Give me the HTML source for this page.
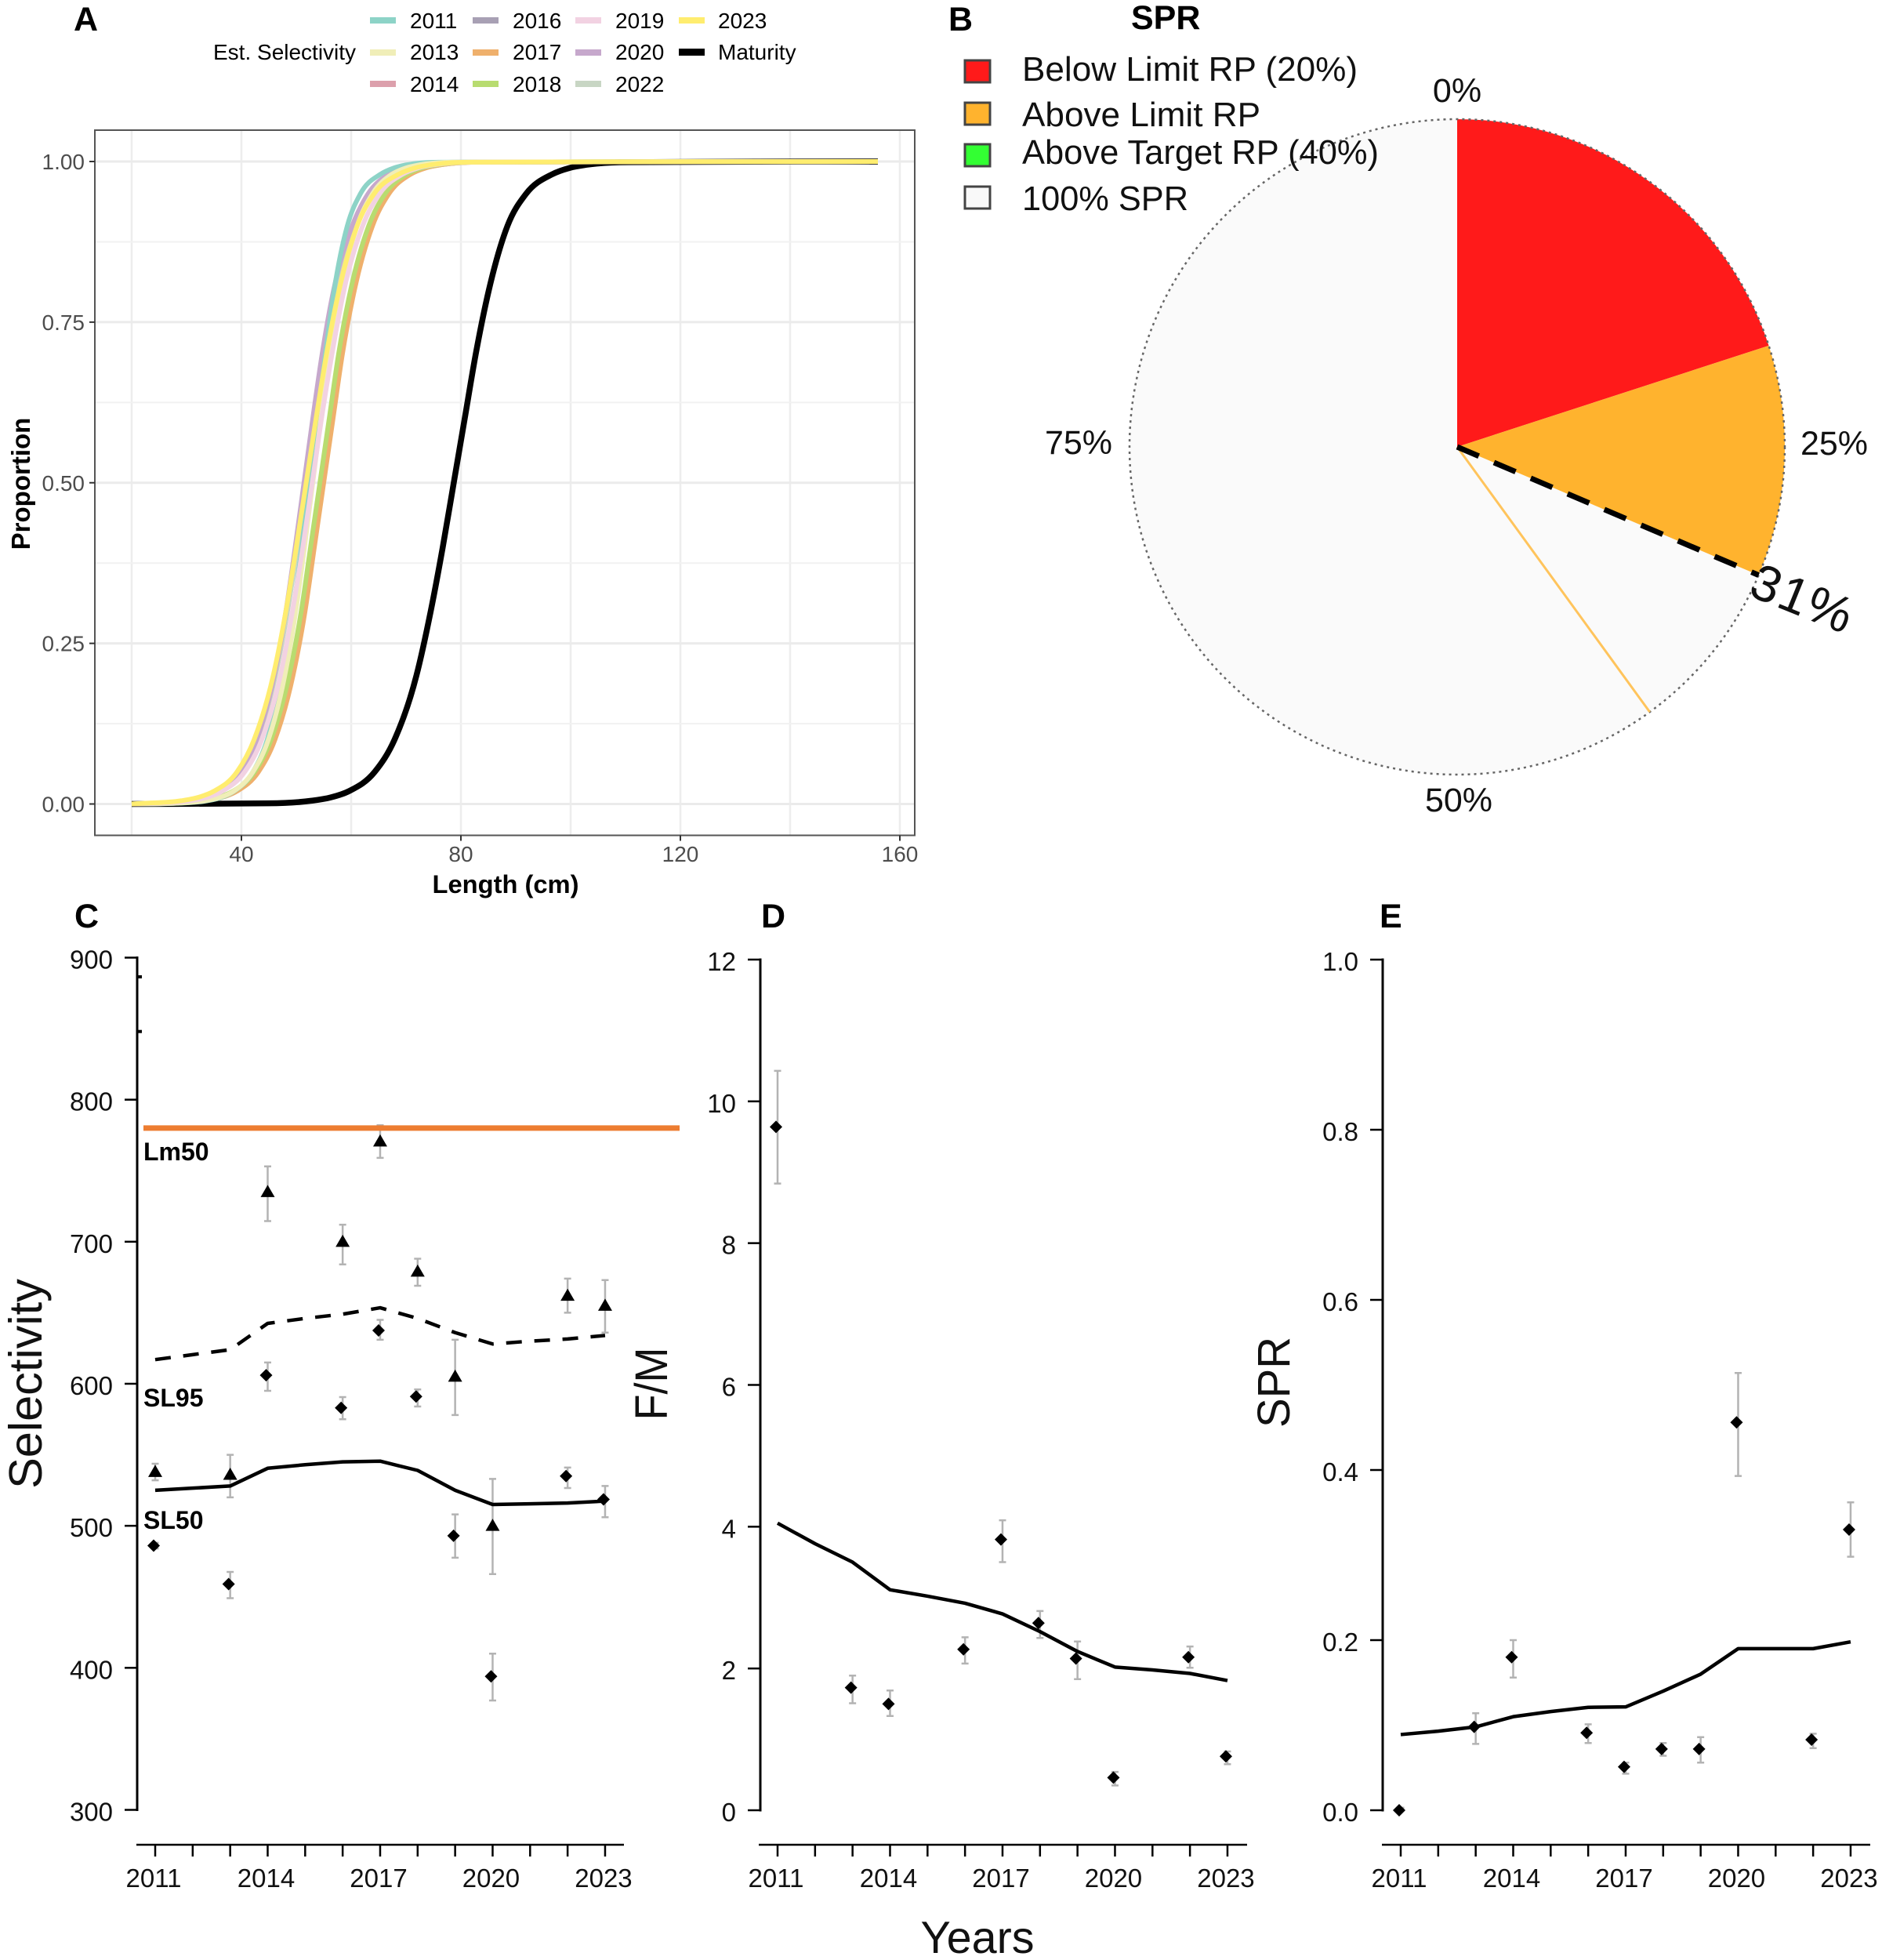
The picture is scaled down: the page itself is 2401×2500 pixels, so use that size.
<!DOCTYPE html>
<html lang="en">
<head>
<meta charset="utf-8">
<title>Selectivity, F/M and SPR figure</title>
<style>
  html, body { margin: 0; padding: 0; background: #ffffff; }
  svg { display: block; font-family: "Liberation Sans", Arial, sans-serif; }
  .panel-letter { font-size: 43px; font-weight: 700; fill: #000; }
  .leg-a { font-size: 28px; fill: #000; }
  .leg-b { font-size: 44px; fill: #111; }
  .pie-lab { font-size: 43px; fill: #111; text-anchor: middle; }
</style>
</head>
<body>
<svg id="chart" xmlns="http://www.w3.org/2000/svg" width="2401" height="2500" viewBox="0 0 2401 2500">
  <rect x="0" y="0" width="2401" height="2500" fill="#ffffff"/>
  <g id="panelA"></g>
  <g id="panelB"></g>
  <g id="panelC"></g>
  <g id="panelD"></g>
  <g id="panelE"></g>

  <text class="panel-letter" x="94" y="39">A</text>
  <text class="panel-letter" x="1210" y="39">B</text>
  <text class="panel-letter" x="95" y="1183">C</text>
  <text class="panel-letter" x="971" y="1183">D</text>
  <text class="panel-letter" x="1760" y="1183">E</text>

  <g>
    <text class="leg-a" x="272" y="76">Est. Selectivity</text>
    <rect x="472" y="22" width="33" height="8" fill="#8dd3c7"/>
    <text class="leg-a" x="523" y="36">2011</text>
    <rect x="472" y="63" width="33" height="8" fill="#f0eeb8"/>
    <text class="leg-a" x="523" y="76">2013</text>
    <rect x="472" y="103" width="33" height="8" fill="#dca0ac"/>
    <text class="leg-a" x="523" y="117">2014</text>
    <rect x="603" y="22" width="33" height="8" fill="#a8a0b4"/>
    <text class="leg-a" x="654" y="36">2016</text>
    <rect x="603" y="63" width="33" height="8" fill="#efb06c"/>
    <text class="leg-a" x="654" y="76">2017</text>
    <rect x="603" y="103" width="33" height="8" fill="#b8dc70"/>
    <text class="leg-a" x="654" y="117">2018</text>
    <rect x="734" y="22" width="33" height="8" fill="#f2d2e2"/>
    <text class="leg-a" x="785" y="36">2019</text>
    <rect x="734" y="63" width="33" height="8" fill="#c6a8cc"/>
    <text class="leg-a" x="785" y="76">2020</text>
    <rect x="734" y="103" width="33" height="8" fill="#c8d6c4"/>
    <text class="leg-a" x="785" y="117">2022</text>
    <rect x="866" y="22" width="33" height="8" fill="#ffed6f"/>
    <text class="leg-a" x="916" y="36">2023</text>
    <rect x="866" y="62" width="33" height="9" fill="#000000"/>
    <text class="leg-a" x="916" y="76">Maturity</text>
  </g>

  <text transform="translate(38,617) rotate(-90)" text-anchor="middle" font-size="33" font-weight="700" fill="#000">Proportion</text>
  <text x="645" y="1139" text-anchor="middle" font-size="32.7" font-weight="700" fill="#000">Length (cm)</text>

  <text transform="translate(53,1765) rotate(-90)" text-anchor="middle" font-size="59.5" fill="#111">Selectivity</text>
  <text transform="translate(851,1765) rotate(-90)" text-anchor="middle" font-size="58" fill="#111" textLength="93" lengthAdjust="spacingAndGlyphs">F/M</text>
  <text transform="translate(1645,1763) rotate(-90)" text-anchor="middle" font-size="58" fill="#111" textLength="116" lengthAdjust="spacingAndGlyphs">SPR</text>
  <text x="1247" y="2491" text-anchor="middle" font-size="57.5" fill="#111">Years</text>
</svg>

<script>
/* ---------- Panel A data ---------- */
const lengthTicks = [40, 80, 120, 160];
const lengthGrid = [20, 40, 60, 80, 100, 120, 140, 160];
const proportionTicks = [0, 0.25, 0.5, 0.75, 1];
const proportionTickLabels = ["0.00", "0.25", "0.50", "0.75", "1.00"];
const proportionMinorGrid = [0.125, 0.375, 0.625, 0.875];
const curveLevels = [0, 0.001, 0.005, 0.01, 0.02, 0.05, 0.1, 0.2, 0.3, 0.4, 0.5, 0.6, 0.7, 0.8, 0.9, 0.95, 0.98, 0.99, 0.995, 0.999, 1];
const curveStart = [20];
const curveEnd = [156];
const lenMaturity = [44.9,52.7,56.2,59.6,64.3,67.9,71.9,74.5,76.7,78.7,80.7,82.7,85.1,88.5,91.9,96.6,99.8,103.0,110.5];
const len2011 = [28.2,33.8,36.3,38.7,42.1,44.7,47.5,49.4,51.0,52.4,53.8,55.3,56.9,59.3,61.7,65.3,67.8,70.2,76.0];
const len2013 = [27.5,33.4,36.0,38.6,42.1,44.9,47.9,49.9,51.5,53.0,54.5,56.1,58.1,61.1,63.9,67.4,70.0,72.6,78.5];
const len2014 = [26.9,33.3,36.2,39.0,42.9,45.9,49.2,51.4,53.1,54.8,56.5,58.2,60.4,63.7,66.7,70.6,73.4,76.3,82.7];
const len2016 = [27.0,33.4,36.3,39.1,43.0,46.0,49.3,51.5,53.2,54.9,56.6,58.3,60.5,63.8,66.8,70.7,73.5,76.4,82.8];
const len2017 = [27.1,33.5,36.4,39.2,43.1,46.1,49.4,51.6,53.3,55.0,56.7,58.4,60.6,63.9,66.9,70.8,73.6,76.5,82.9];
const len2018 = [26.4,32.8,35.7,38.5,42.4,45.4,48.7,50.9,52.6,54.3,56.0,57.7,59.9,63.2,66.2,70.1,72.9,75.8,82.2];
const len2019 = [23.9,30.6,33.6,36.5,40.6,43.7,47.1,49.3,51.2,52.9,54.6,56.5,58.7,62.1,65.2,69.3,72.2,75.2,81.9];
const len2020 = [24.5,30.7,33.5,36.2,39.9,42.8,46.0,48.1,49.8,51.4,53.0,54.7,56.8,60.2,63.1,66.8,69.5,72.3,78.5];
const len2022 = [23.6,30.2,33.0,35.9,39.8,42.9,46.2,48.4,50.2,51.9,53.6,55.4,57.6,60.9,64.0,67.9,70.8,73.6,80.2];
const len2023 = [22.1,29.0,32.0,35.0,39.2,42.3,45.8,48.1,50.0,51.8,53.6,55.5,57.8,61.1,64.2,68.6,71.6,74.6,81.5];

/* ---------- Panel B data ---------- */
const sprEstimate = [0.314];
const limitRP = [0.20];
const targetRP = [0.40];

/* ---------- Shared time-series data ---------- */
const allYears = [2011,2012,2013,2014,2015,2016,2017,2018,2019,2020,2021,2022,2023];
const obsYears = [2011,2013,2014,2016,2017,2018,2019,2020,2022,2023];
const yearTickLabels = [2011,2014,2017,2020,2023];

/* ---------- Panel C data ---------- */
const selTicks = [300,400,500,600,700,800,900];
const sl50Obs = [486,459,606,583,637.5,591,493,394,535,518.6];
const sl50Lo  = [484,449,595,575,631,584,477.5,377,526.6,506];
const sl50Hi  = [488,467.5,615,590.6,645,596,508,410,541,528];
const sl95Obs = [538,536,735,700,770.6,679,605,500,662,655];
const sl95Lo  = [532,520,714.5,684,759,669,578,466,650,636];
const sl95Hi  = [543.7,550,753,712,782,688,631,533,674,673];
const sl50Est = [525,526.5,528,540.5,543,545,545.5,539,525,515,515.5,516,517.4];
const sl95Est = [617,620.5,624,642.5,646,649,653.5,646,636,628,630,631.5,634];
const lm50Value = [780];
const offScaleValues = [886.5,848];

/* ---------- Panel D data ---------- */
const fmTicks = [0,2,4,6,8,10,12];
const fmObs = [9.64,1.73,1.5,2.27,3.82,2.64,2.14,0.46,2.16,0.76];
const fmLo  = [8.84,1.51,1.33,2.07,3.5,2.43,1.85,0.35,2.01,0.65];
const fmHi  = [10.43,1.9,1.69,2.44,4.09,2.81,2.38,0.54,2.31,0.83];
const fmEst = [4.05,3.76,3.5,3.11,3.02,2.92,2.77,2.52,2.24,2.02,1.98,1.93,1.83];

/* ---------- Panel E data ---------- */
const sprTicks = [0,0.2,0.4,0.6,0.8,1];
const sprTickLabels = ["0.0","0.2","0.4","0.6","0.8","1.0"];
const sprObs = [0,0.098,0.18,0.091,0.051,0.072,0.072,0.456,0.083,0.33];
const sprLo  = [0,0.078,0.156,0.079,0.043,0.064,0.056,0.393,0.073,0.298];
const sprHi  = [0.003,0.114,0.2,0.101,0.056,0.079,0.086,0.514,0.09,0.362];
const sprEst = [0.089,0.093,0.098,0.11,0.116,0.121,0.1215,0.14,0.16,0.19,0.19,0.19,0.198];

/* ---------- helpers ---------- */
const NS = 'http://www.w3.org/2000/svg';
function mk(parent, tag, attrs, txt) {
  const el = document.createElementNS(NS, tag);
  for (const k in attrs) el.setAttribute(k, attrs[k]);
  if (txt !== undefined) el.textContent = txt;
  parent.appendChild(el);
  return el;
}
/* Steffen monotone cubic path through points ordered by increasing x */
function monotonePath(pts) {
  const n = pts.length;
  const h = [], s = [], m = new Array(n);
  for (let i = 0; i < n - 1; i++) {
    h[i] = Math.max(pts[i + 1][0] - pts[i][0], 0.001);
    s[i] = (pts[i + 1][1] - pts[i][1]) / h[i];
  }
  m[0] = s[0];
  m[n - 1] = s[n - 2];
  for (let i = 1; i < n - 1; i++) {
    const p = (s[i - 1] * h[i] + s[i] * h[i - 1]) / (h[i - 1] + h[i]);
    const sign = s[i - 1] * s[i] <= 0 ? 0 : Math.sign(s[i]);
    m[i] = sign * Math.min(Math.abs(s[i - 1]) * 3, Math.abs(s[i]) * 3, Math.abs(p));
  }
  let d = 'M' + pts[0][0].toFixed(2) + ' ' + pts[0][1].toFixed(2);
  for (let i = 0; i < n - 1; i++) {
    const c1x = pts[i][0] + h[i] / 3, c1y = pts[i][1] + m[i] * h[i] / 3;
    const c2x = pts[i + 1][0] - h[i] / 3, c2y = pts[i + 1][1] - m[i + 1] * h[i] / 3;
    d += 'C' + c1x.toFixed(2) + ' ' + c1y.toFixed(2) + ' ' + c2x.toFixed(2) + ' ' + c2y.toFixed(2) + ' ' + pts[i + 1][0].toFixed(2) + ' ' + pts[i + 1][1].toFixed(2);
  }
  return d;
}
function linePath(pts) {
  return pts.map((p, i) => (i ? 'L' : 'M') + p[0].toFixed(2) + ' ' + p[1].toFixed(2)).join('');
}

/* ---------- Panel A ---------- */
(function () {
  const g = document.getElementById('panelA');
  const xA = v => 308 + (v - 40) * 7.0;
  const yA = v => 1025.5 - v * 819.5;
  const box = { l: 121, t: 166, r: 1167, b: 1065.5 };

  lengthGrid.forEach(v => {
    const ln = mk(g, 'line', { x1: xA(v), x2: xA(v), y1: box.t, y2: box.b, stroke: '#ededed', 'stroke-width': 2.5 });
    
    
  });
  proportionMinorGrid.forEach(v => {
    const ln = mk(g, 'line', { x1: box.l, x2: box.r, y1: yA(v), y2: yA(v), stroke: '#f1f1f1', 'stroke-width': 2 });
    
    
  });
  proportionTicks.forEach(v => {
    const ln = mk(g, 'line', { x1: box.l, x2: box.r, y1: yA(v), y2: yA(v), stroke: '#ebebeb', 'stroke-width': 3 });
    
    
  });

  const series = [
    { key: 'maturity', len: lenMaturity, color: '#000000', w: 7.5 },
    { key: '2014', len: len2014, color: '#dca0ac', w: 6 },
    { key: '2016', len: len2016, color: '#a8a0b4', w: 6 },
    { key: '2017', len: len2017, color: '#efb06c', w: 6 },
    { key: '2018', len: len2018, color: '#b8dc70', w: 6 },
    { key: '2022', len: len2022, color: '#c8d6c4', w: 6 },
    { key: '2020', len: len2020, color: '#c6a8cc', w: 6 },
    { key: '2011', len: len2011, color: '#8dd3c7', w: 6 },
    { key: '2013', len: len2013, color: '#f0eeb8', w: 6 },
    { key: '2019', len: len2019, color: '#f2d2e2', w: 6 },
    { key: '2023', len: len2023, color: '#ffed6f', w: 6 }
  ];
  series.forEach(s => {
    const xs = [curveStart[0]].concat(s.len, [curveEnd[0]]);
    const pts = xs.map((x, i) => [xA(x), yA(curveLevels[i])]);
    const p = mk(g, 'path', { d: monotonePath(pts), fill: 'none', stroke: s.color, 'stroke-width': s.w, 'stroke-linejoin': 'round' });
    
    
  });

  const border = mk(g, 'rect', { x: box.l, y: box.t, width: box.r - box.l, height: box.b - box.t, fill: 'none', stroke: '#555555', 'stroke-width': 2 });
  
  

  proportionTicks.forEach((v, i) => {
    const t = mk(g, 'line', { x1: box.l - 7, x2: box.l, y1: yA(v), y2: yA(v), stroke: '#333333', 'stroke-width': 2 });
    
    
    const lb = mk(g, 'text', { x: 108, y: yA(v) + 10, 'text-anchor': 'end', 'font-size': 28, fill: '#4d4d4d' }, proportionTickLabels[i]);
    
    
  });
  lengthTicks.forEach(v => {
    const t = mk(g, 'line', { x1: xA(v), x2: xA(v), y1: box.b, y2: box.b + 7, stroke: '#333333', 'stroke-width': 2 });
    
    
    const lb = mk(g, 'text', { x: xA(v), y: 1099, 'text-anchor': 'middle', 'font-size': 28, fill: '#4d4d4d' }, String(v));
    
    
  });
})();

/* ---------- Panel B ---------- */
(function () {
  const g = document.getElementById('panelB');
  const cx = 1859, cy = 570, r = 418;
  const ptAt = (p, rad) => [cx + rad * Math.sin(p * 2 * Math.PI), cy - rad * Math.cos(p * 2 * Math.PI)];
  const slice = (a, b) => {
    const s = ptAt(a, r), e = ptAt(b, r);
    const large = (b - a) > 0.5 ? 1 : 0;
    return 'M' + cx + ' ' + cy + 'L' + s[0] + ' ' + s[1] + 'A' + r + ' ' + r + ' 0 ' + large + ' 1 ' + e[0] + ' ' + e[1] + 'Z';
  };

  const base = mk(g, 'circle', { cx: cx, cy: cy, r: r, fill: '#fafafa' });
  
  

  const red = mk(g, 'path', { d: slice(0, limitRP[0]), fill: '#ff1a1a' });
  
  

  const orange = mk(g, 'path', { d: slice(limitRP[0], sprEstimate[0]), fill: '#ffb32e' });
  
  

  const outline = mk(g, 'circle', { cx: cx, cy: cy, r: r, fill: 'none', stroke: '#666666', 'stroke-width': 2.5, 'stroke-dasharray': '3 5' });
  
  

  const tEnd = ptAt(targetRP[0], r);
  const tLine = mk(g, 'line', { x1: cx, y1: cy, x2: tEnd[0], y2: tEnd[1], stroke: '#ffc45c', 'stroke-width': 3 });
  
  

  const sEnd = ptAt(sprEstimate[0], r);
  const sLine = mk(g, 'line', { x1: cx, y1: cy, x2: sEnd[0], y2: sEnd[1], stroke: '#000000', 'stroke-width': 7, 'stroke-dasharray': '30 21' });
  
  

  const lab0 = mk(g, 'text', { class: 'pie-lab', x: 1859, y: 130 }, '0%');
  
  
  const lab25 = mk(g, 'text', { class: 'pie-lab', x: 2340, y: 580 }, '25%');
  
  
  const lab50 = mk(g, 'text', { class: 'pie-lab', x: 1861, y: 1035 }, '50%');
  
  
  const lab75 = mk(g, 'text', { class: 'pie-lab', x: 1376, y: 579 }, '75%');
  
  

  const sprAnchor = ptAt(sprEstimate[0], r + 55);
  const sprLab = mk(g, 'text', { x: 0, y: 0, dy: '0.35em', 'text-anchor': 'middle', 'font-size': 65, 'letter-spacing': 2, fill: '#111', transform: 'translate(' + (sprAnchor[0] + 6).toFixed(1) + ',' + (sprAnchor[1] + 8).toFixed(1) + ') rotate(22)' }, Math.round(sprEstimate[0] * 100) + '%');
  
  

  const title = mk(g, 'text', { x: 1443, y: 37, 'font-size': 43, 'font-weight': 700, fill: '#000' }, 'SPR');
  
  

  const rows = [
    { t: 'Below Limit RP (20%)', c: '#ff1a1a', y: 77, b: 103, n: 'below-limit', len: 428 },
    { t: 'Above Limit RP', c: '#ffb32e', y: 131, b: 161, n: 'above-limit', len: 304 },
    { t: 'Above Target RP (40%)', c: '#33ff33', y: 184, b: 209, n: 'above-target', len: 455 },
    { t: '100% SPR', c: '#f9f9f9', y: 238, b: 268, n: 'full-spr', len: 212 }
  ];
  rows.forEach(o => {
    const sw = mk(g, 'rect', { x: 1231, y: o.y, width: 32, height: 28, fill: o.c, stroke: '#444444', 'stroke-width': 3 });
    
    
    const tx = mk(g, 'text', { class: 'leg-b', x: 1304, y: o.b, textLength: o.len, lengthAdjust: 'spacingAndGlyphs' }, o.t);
    
    
  });
})();

/* ---------- Panels C, D, E ---------- */
function drawAxes(g, ax, yTicks, yLabels) {
  const yLine = mk(g, 'line', { x1: ax.axisX, x2: ax.axisX, y1: ax.y(yTicks[yTicks.length - 1]), y2: ax.y(yTicks[0]), stroke: '#000', 'stroke-width': 3, 'stroke-linecap': 'square' });
  
  
  yTicks.forEach((v, i) => {
    const t = mk(g, 'line', { x1: ax.axisX - 16, x2: ax.axisX, y1: ax.y(v), y2: ax.y(v), stroke: '#000', 'stroke-width': 2.5 });
    
    
    const lb = mk(g, 'text', { x: ax.axisX - 31, y: ax.y(v) + 14, 'text-anchor': 'end', 'font-size': 33, fill: '#111' }, yLabels[i]);
    
    
  });
  const xLine = mk(g, 'line', { x1: ax.xL, x2: ax.xR, y1: 2353, y2: 2353, stroke: '#000', 'stroke-width': 2.5 });
  
  
  allYears.forEach(v => {
    const t = mk(g, 'line', { x1: ax.x(v), x2: ax.x(v), y1: 2353, y2: 2368, stroke: '#000', 'stroke-width': 2.5 });
    
    
  });
  yearTickLabels.forEach(v => {
    const lb = mk(g, 'text', { x: ax.x(v) - 2, y: 2407, 'text-anchor': 'middle', 'font-size': 33, fill: '#111' }, String(v));
    
    
  });
}
function drawLine(g, ax, values, name, dash) {
  const pts = allYears.map((yr, i) => [ax.x(yr), ax.y(values[i])]);
  const attrs = { d: linePath(pts), fill: 'none', stroke: '#000', 'stroke-width': 4.5, 'stroke-linejoin': 'round' };
  if (dash) attrs['stroke-dasharray'] = dash;
  const p = mk(g, 'path', attrs);
  
  
}
function drawObs(g, ax, obs, lo, hi, shape, name) {
  obsYears.forEach((yr, i) => {
    const x = ax.x(yr);
    const bar = mk(g, 'path', {
      d: 'M' + x + ' ' + ax.y(hi[i]) + 'V' + ax.y(lo[i]) +
         'M' + (x - 4.5) + ' ' + ax.y(hi[i]) + 'H' + (x + 4.5) +
         'M' + (x - 4.5) + ' ' + ax.y(lo[i]) + 'H' + (x + 4.5),
      fill: 'none', stroke: '#b3b3b3', 'stroke-width': 2.5
    });
    
    
    const y = ax.y(obs[i]);
    let d;
    if (shape === 'triangle') {
      d = 'M' + x + ' ' + (y - 9) + 'L' + (x + 9) + ' ' + (y + 6.5) + 'L' + (x - 9) + ' ' + (y + 6.5) + 'Z';
    } else {
      const mx = x - 2;
      d = 'M' + mx + ' ' + (y - 8) + 'L' + (mx + 8) + ' ' + y + 'L' + mx + ' ' + (y + 8) + 'L' + (mx - 8) + ' ' + y + 'Z';
    }
    const m = mk(g, 'path', { d: d, fill: '#000' });
    
    
  });
}

(function () {
  const g = document.getElementById('panelC');
  const ax = { axisX: 175, xL: 174, xR: 796, x: v => 198 + (v - 2011) * 47.83, y: v => 2308.5 - (v - 300) * 1.8117 };
  drawAxes(g, ax, selTicks, selTicks.map(String));
  offScaleValues.forEach(v => {
    const o = mk(g, 'line', { x1: 174, x2: 181, y1: ax.y(v), y2: ax.y(v), stroke: '#000', 'stroke-width': 4 });
    
    
  });
  drawObs(g, ax, sl95Obs, sl95Lo, sl95Hi, 'triangle', 'sl95-observed');
  drawObs(g, ax, sl50Obs, sl50Lo, sl50Hi, 'diamond', 'sl50-observed');
  drawLine(g, ax, sl50Est, 'sl50-estimate-line');
  drawLine(g, ax, sl95Est, 'sl95-estimate-line', '20 16');
  const lm = mk(g, 'line', { x1: 183, x2: 867, y1: ax.y(lm50Value[0]), y2: ax.y(lm50Value[0]), stroke: '#ed7d31', 'stroke-width': 7 });
  
  
  const t1 = mk(g, 'text', { x: 183, y: 1480, 'font-size': 32, 'font-weight': 700, fill: '#000' }, 'Lm50');
  
  
  const t2 = mk(g, 'text', { x: 183, y: 1794, 'font-size': 32, 'font-weight': 700, fill: '#000' }, 'SL95');
  
  
  const t3 = mk(g, 'text', { x: 183, y: 1950, 'font-size': 32, 'font-weight': 700, fill: '#000' }, 'SL50');
  
  
})();

(function () {
  const g = document.getElementById('panelD');
  const ax = { axisX: 970, xL: 968, xR: 1591, x: v => 992 + (v - 2011) * 47.83, y: v => 2309 - v * 90.42 };
  drawAxes(g, ax, fmTicks, fmTicks.map(String));
  drawObs(g, ax, fmObs, fmLo, fmHi, 'diamond', 'fm-observed');
  drawLine(g, ax, fmEst, 'fm-estimate-line');
})();

(function () {
  const g = document.getElementById('panelE');
  const ax = { axisX: 1764, xL: 1763, xR: 2386, x: v => 1787 + (v - 2011) * 47.83, y: v => 2309 - v * 1085 };
  drawAxes(g, ax, sprTicks, sprTickLabels);
  drawObs(g, ax, sprObs, sprLo, sprHi, 'diamond', 'spr-observed');
  drawLine(g, ax, sprEst, 'spr-estimate-line');
})();
</script>
</body>
</html>
